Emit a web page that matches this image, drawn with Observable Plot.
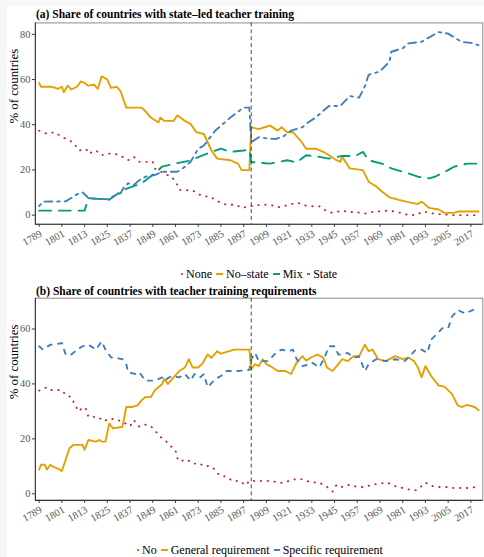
<!DOCTYPE html>
<html>
<head>
<meta charset="utf-8">
<script src="https://cdn.jsdelivr.net/npm/d3@7"></script>
<script src="https://cdn.jsdelivr.net/npm/@observablehq/plot@0.6"></script>
<style>
  html, body { margin: 0; padding: 0; width: 484px; height: 557px; overflow: hidden; background: #f7f7f7; }
  #sheet { position: absolute; left: 7px; top: 6px; width: 520px; height: 560px; background: #fff; }
  .abs { position: absolute; }
  .title { font-family: "Liberation Serif", serif; font-weight: bold; font-size: 11.5px; line-height: 12px; color: #000; white-space: nowrap; }
  .legend { display: flex; align-items: center; font-family: "Liberation Serif", serif; font-size: 12px; line-height: 14px; color: #000; white-space: nowrap; }
  .key { display: inline-block; margin-right: 3px; }
  .lab { margin-right: 4px; }
</style>
</head>
<body>
<div id="sheet"></div>
<div class="abs title" style="left:36px; top:8px;">(a) Share of countries with state–led teacher training</div>
<div id="chartA" class="abs" style="left:0; top:0;"></div>
<div id="legendA" class="abs legend" style="left:181px; top:267px;"></div>
<div class="abs title" style="left:36px; top:284.5px;">(b) Share of countries with teacher training requirements</div>
<div id="chartB" class="abs" style="left:0; top:276px;"></div>
<div id="legendB" class="abs legend" style="left:137px; top:543px;"></div>
<script>
// Year axis shared by both panels
const xTicks = [1789, 1801, 1813, 1825, 1837, 1849, 1861, 1873, 1885, 1897, 1909, 1921, 1933, 1945, 1957, 1969, 1981, 1993, 2005, 2017];
const policyYear = 1901;

// Panel (a): share of countries by who runs teacher training, [year, %]
const aNone = [[1789,37.4],[1793,36],[1797,36.7],[1800,35.2],[1803,33.8],[1806,32.6],[1809,30.1],[1810,28.6],[1814,29.1],[1815,27.2],[1819,28.6],[1822,26.5],[1825,27.2],[1829,27.2],[1833,25.8],[1836,24.3],[1839,25.8],[1842,23.6],[1845,23.6],[1849,23.6],[1850,20.7],[1854,18.9],[1856,18],[1859,17],[1862,13.4],[1863,11.2],[1868,11],[1870,11],[1873,9.3],[1876,8.3],[1879,8.3],[1882,6.8],[1885,5.4],[1888,4.6],[1893,4.6],[1896,3.2],[1900,3.9],[1903,4.3],[1907,4.6],[1911,4.6],[1915,3.5],[1918,3.9],[1922,4.9],[1926,5.4],[1929,4.3],[1934,3.9],[1937,3.9],[1941,1.7],[1944,1],[1949,2],[1952,1.4],[1956,1.4],[1961,0.7],[1965,1.4],[1969,1.7],[1973,2],[1976,1.7],[1980,1],[1983,0.3],[1988,0],[1992,1.7],[1995,1],[1998,0.6],[2003,0.3],[2008,0],[2013,0],[2021,0]];
const aNoState = [[1789,58.5],[1790,56.8],[1796,56.8],[1799,55.9],[1801,56.8],[1802,54.4],[1804,57.3],[1806,55.6],[1809,56.8],[1811,59.2],[1813,58.5],[1815,57.3],[1818,57.7],[1820,55.9],[1822,61.4],[1825,60],[1827,56.3],[1830,56.8],[1832,54.8],[1835,47.6],[1843,47.6],[1845,46.1],[1848,43.2],[1852,41],[1853,43.2],[1855,41.7],[1860,41.7],[1862,44.2],[1866,41.7],[1869,40.3],[1872,36.7],[1876,35.9],[1880,28.6],[1883,25],[1890,24.3],[1894,22.8],[1896,19.9],[1900,19.9],[1901,38.9],[1905,38.1],[1908,38.9],[1911,39.6],[1915,37.4],[1917,38.9],[1920,36.7],[1923,36.7],[1927,33],[1930,29.4],[1935,29.4],[1939,28],[1942,26.5],[1946,24.3],[1948,23.6],[1949,25.8],[1953,20.7],[1960,19.9],[1963,14.8],[1967,12.7],[1970,10.5],[1974,7.9],[1979,6.8],[1984,5.8],[1989,4.9],[1991,6],[1995,3.2],[2000,2.5],[2003,1],[2008,1],[2010,1.6],[2021,1.6]];
const aMix = [[1789,2],[1813,2],[1815,7.5],[1826,6.8],[1833,11],[1843,14],[1850,18.5],[1854,21.5],[1862,23],[1868,24],[1874,26],[1880,28],[1885,29.4],[1890,28],[1897,28.6],[1900,29],[1901,23.5],[1911,22.8],[1920,24.3],[1925,23.3],[1930,26.5],[1937,25.8],[1942,25],[1949,26.2],[1956,26.2],[1960,28],[1963,24.3],[1970,22.8],[1975,20.7],[1981,19.2],[1984,18.5],[1989,17],[1995,16.3],[1998,17],[2005,19.9],[2008,21.4],[2015,22.8],[2021,22.8]];
const aState = [[1789,4],[1791,6],[1803,6.1],[1810,9.7],[1812,10],[1814,8.5],[1815,7.5],[1826,7],[1828,8.3],[1832,9.7],[1834,12.7],[1836,14.1],[1839,13.4],[1842,15.5],[1845,17],[1850,17.7],[1854,19.2],[1862,19.2],[1866,21.4],[1869,23.6],[1873,29.4],[1876,30.8],[1882,37.4],[1887,41],[1890,43.2],[1897,47.6],[1900,47.6],[1901,32.3],[1905,34.5],[1909,34],[1914,33.7],[1918,34.9],[1922,37.4],[1928,38.9],[1931,41],[1935,43.2],[1942,48.3],[1948,48.3],[1953,52.7],[1958,52],[1961,57],[1963,62.1],[1969,63.6],[1974,67.9],[1975,72.3],[1981,73.8],[1984,76],[1991,76.7],[1994,78.2],[2000,81],[2005,80.3],[2012,76.7],[2017,76.2],[2021,75.2]];

// Panel (b): share of countries by teacher training requirement, [year, %]
const bNo = [[1789,37.6],[1793,38.8],[1795,37.8],[1797,37.8],[1801,37.8],[1803,36],[1806,35.2],[1808,32.2],[1810,30],[1812,31.6],[1814,30.7],[1815,28],[1817,28],[1820,28],[1823,26.4],[1826,27.4],[1830,27],[1834,25.9],[1837,24.6],[1839,26.8],[1842,24.4],[1845,25.2],[1848,24.6],[1851,22.3],[1853,20.8],[1856,19.2],[1858,17.6],[1861,15.8],[1862,13],[1863,11.8],[1867,12.5],[1870,11],[1874,11],[1876,10],[1879,10.2],[1882,8.8],[1884,6.8],[1888,6.2],[1891,4.7],[1895,4.7],[1898,3.1],[1900,4.7],[1903,4.7],[1908,4.7],[1912,4.7],[1915,4.1],[1918,4],[1922,4.9],[1926,5.6],[1929,5],[1933,4.1],[1937,4.1],[1941,2.5],[1944,0.8],[1946,3.3],[1949,2.5],[1953,3.3],[1957,2.5],[1961,2.5],[1965,3.3],[1969,3.8],[1973,4.1],[1976,2.9],[1979,2.5],[1983,1.7],[1988,1.3],[1990,2.2],[1993,4.1],[1996,2.9],[2000,2.5],[2004,2.5],[2008,2.1],[2012,2.1],[2016,2.1],[2020,2.5],[2021,2.5]];
const bGeneral = [[1789,8.8],[1790,10.6],[1792,10.6],[1793,8.8],[1795,10.6],[1796,10],[1800,8.8],[1801,8.3],[1803,12.4],[1805,16.6],[1807,17.8],[1812,17.8],[1813,16],[1815,19.6],[1819,19],[1821,19.6],[1822,19],[1824,19],[1826,25.6],[1828,23.8],[1833,24.4],[1835,31.6],[1838,31.6],[1841,32.2],[1843,34],[1845,35.2],[1848,35.2],[1850,37.6],[1854,40],[1855,41.8],[1857,40],[1860,42.4],[1863,44.7],[1866,46],[1868,49],[1870,46],[1873,46],[1875,47.2],[1878,50.7],[1880,49.5],[1883,51.9],[1885,51],[1892,52.5],[1900,52.5],[1901,45.4],[1903,47.2],[1905,46.5],[1907,49],[1909,47.2],[1911,46.5],[1915,44.7],[1919,44.7],[1922,43.6],[1925,47.8],[1928,50.1],[1930,48.5],[1933,49.8],[1936,50.7],[1939,49.6],[1941,46],[1944,44.7],[1947,47.2],[1949,49],[1952,48.3],[1955,50.1],[1958,50.1],[1961,54.3],[1963,51.9],[1965,52.5],[1968,49],[1972,48.3],[1977,50.1],[1981,49],[1984,49.6],[1987,48.3],[1989,46],[1991,42.4],[1993,46.5],[1996,42.9],[2000,39.4],[2003,39],[2007,36.4],[2010,32.2],[2012,31.6],[2015,32.4],[2019,31.6],[2021,30.4]];
const bSpecific = [[1789,53.7],[1791,52.5],[1795,54.3],[1797,54.3],[1801,54.9],[1803,50.7],[1806,50.7],[1809,52.5],[1812,53.7],[1815,54.3],[1819,52.5],[1822,55.5],[1824,52.5],[1827,49.6],[1829,49.6],[1833,49],[1835,47.2],[1836,44.2],[1840,43.6],[1842,44.2],[1845,41.2],[1850,41.2],[1854,42.4],[1855,41.2],[1859,42.9],[1863,42.4],[1866,43.6],[1869,41.2],[1871,43.6],[1874,42.4],[1876,43.6],[1878,38.8],[1882,41.8],[1885,42.9],[1888,44.7],[1894,44.7],[1900,45.1],[1901,49],[1903,51.3],[1905,48.3],[1910,48.3],[1914,51.3],[1917,52.5],[1921,51.9],[1923,52.5],[1925,49],[1928,46.5],[1930,46.8],[1933,47.8],[1937,46],[1940,50.1],[1942,53.7],[1945,53.7],[1947,50.7],[1949,50.7],[1952,51.3],[1955,49.6],[1958,50],[1961,44.7],[1963,47.2],[1967,49],[1972,48.3],[1977,49],[1982,48.3],[1984,49.6],[1988,52.5],[1991,52.5],[1994,51.3],[1996,56.1],[2002,60.3],[2005,60.3],[2007,64.5],[2010,66.9],[2014,65.7],[2018,66.9],[2021,68]];

const red = "#c0282d", orange = "#e69f00", green = "#009e73", blue = "#3d7fbf";
const serif = '"Liberation Serif", "Times New Roman", serif';
const xDomain = [1787, 2023.3];

function panel({series, yDomain, yTicks, height, marginTop, marginBottom}) {
  return Plot.plot({
    width: 490, height,
    marginLeft: 35.3, marginRight: 1.7, marginTop, marginBottom,
    x: {domain: xDomain},
    y: {domain: yDomain},
    style: {fontFamily: serif, background: "transparent", overflow: "visible"},
    marks: [
      Plot.frame({stroke: "#8a8a8a", strokeWidth: 1}),
      ...series.map(s => Plot.line(s.data, {
        x: d => d[0], y: d => d[1],
        stroke: s.color, strokeWidth: 1.9, strokeDasharray: s.dash,
        strokeLinecap: "round", strokeLinejoin: "round"
      })),
      Plot.ruleX([policyYear], {stroke: "#333", strokeWidth: 0.9, strokeDasharray: "4,3"}),
      Plot.ruleX([xDomain[0]], {stroke: "#333", strokeWidth: 1.1}),
      Plot.ruleY([yDomain[0]], {stroke: "#333", strokeWidth: 1.1}),
      Plot.axisY({ticks: yTicks, tickSize: 3, tickPadding: 2, fontSize: 10.5, fill: "#555", stroke: "#333", label: null}),
      Plot.axisX({ticks: xTicks, tickFormat: d => String(d), tickRotate: -30, lineAnchor: "top", textAnchor: "end", tickSize: 3, tickPadding: 2, fontSize: 10.5, fill: "#555", stroke: "#333", label: null}),
      Plot.text(["% of countries"], {frameAnchor: "left", rotate: -90, dx: -21.3, fontSize: 13, fill: "#000"})
    ]
  });
}

const dotted = "0.4,6.6";

document.getElementById("chartA").append(panel({
  series: [
    {data: aNone, color: red, dash: dotted},
    {data: aNoState, color: orange, dash: null},
    {data: aMix, color: green, dash: "12,8"},
    {data: aState, color: blue, dash: "2.5,5,8,5"}
  ],
  yDomain: [-4.05, 85.05], yTicks: [0, 20, 40, 60, 80],
  height: 256, marginTop: 22.7, marginBottom: 29.4
}));

document.getElementById("chartB").append(panel({
  series: [
    {data: bNo, color: red, dash: dotted},
    {data: bGeneral, color: orange, dash: null},
    {data: bSpecific, color: blue, dash: "4.5,6.5"}
  ],
  yDomain: [-2.4, 71.2], yTicks: [0, 20, 40, 60],
  height: 255, marginTop: 22, marginBottom: 28.3
}));

// Legends: key glyph + label for each series
function legend(el, items) {
  for (const it of items) {
    const k = document.createElement("span");
    k.className = "key";
    k.style.width = it.w + "px";
    k.style.height = it.h + "px";
    k.style.background = it.color;
    if (it.round) k.style.borderRadius = "50%";
    const t = document.createElement("span");
    t.className = "lab";
    t.textContent = it.label;
    el.append(k, t);
  }
}
legend(document.getElementById("legendA"), [
  {label: "None", color: red, w: 2, h: 2, round: true},
  {label: "No–state", color: orange, w: 7, h: 2.2},
  {label: "Mix", color: green, w: 7, h: 2.2},
  {label: "State", color: blue, w: 3.5, h: 2.2}
]);
legend(document.getElementById("legendB"), [
  {label: "No", color: red, w: 2, h: 2, round: true},
  {label: "General requirement", color: orange, w: 7, h: 2.2},
  {label: "Specific requirement", color: blue, w: 6, h: 2.2}
]);
</script>
</body>
</html>
